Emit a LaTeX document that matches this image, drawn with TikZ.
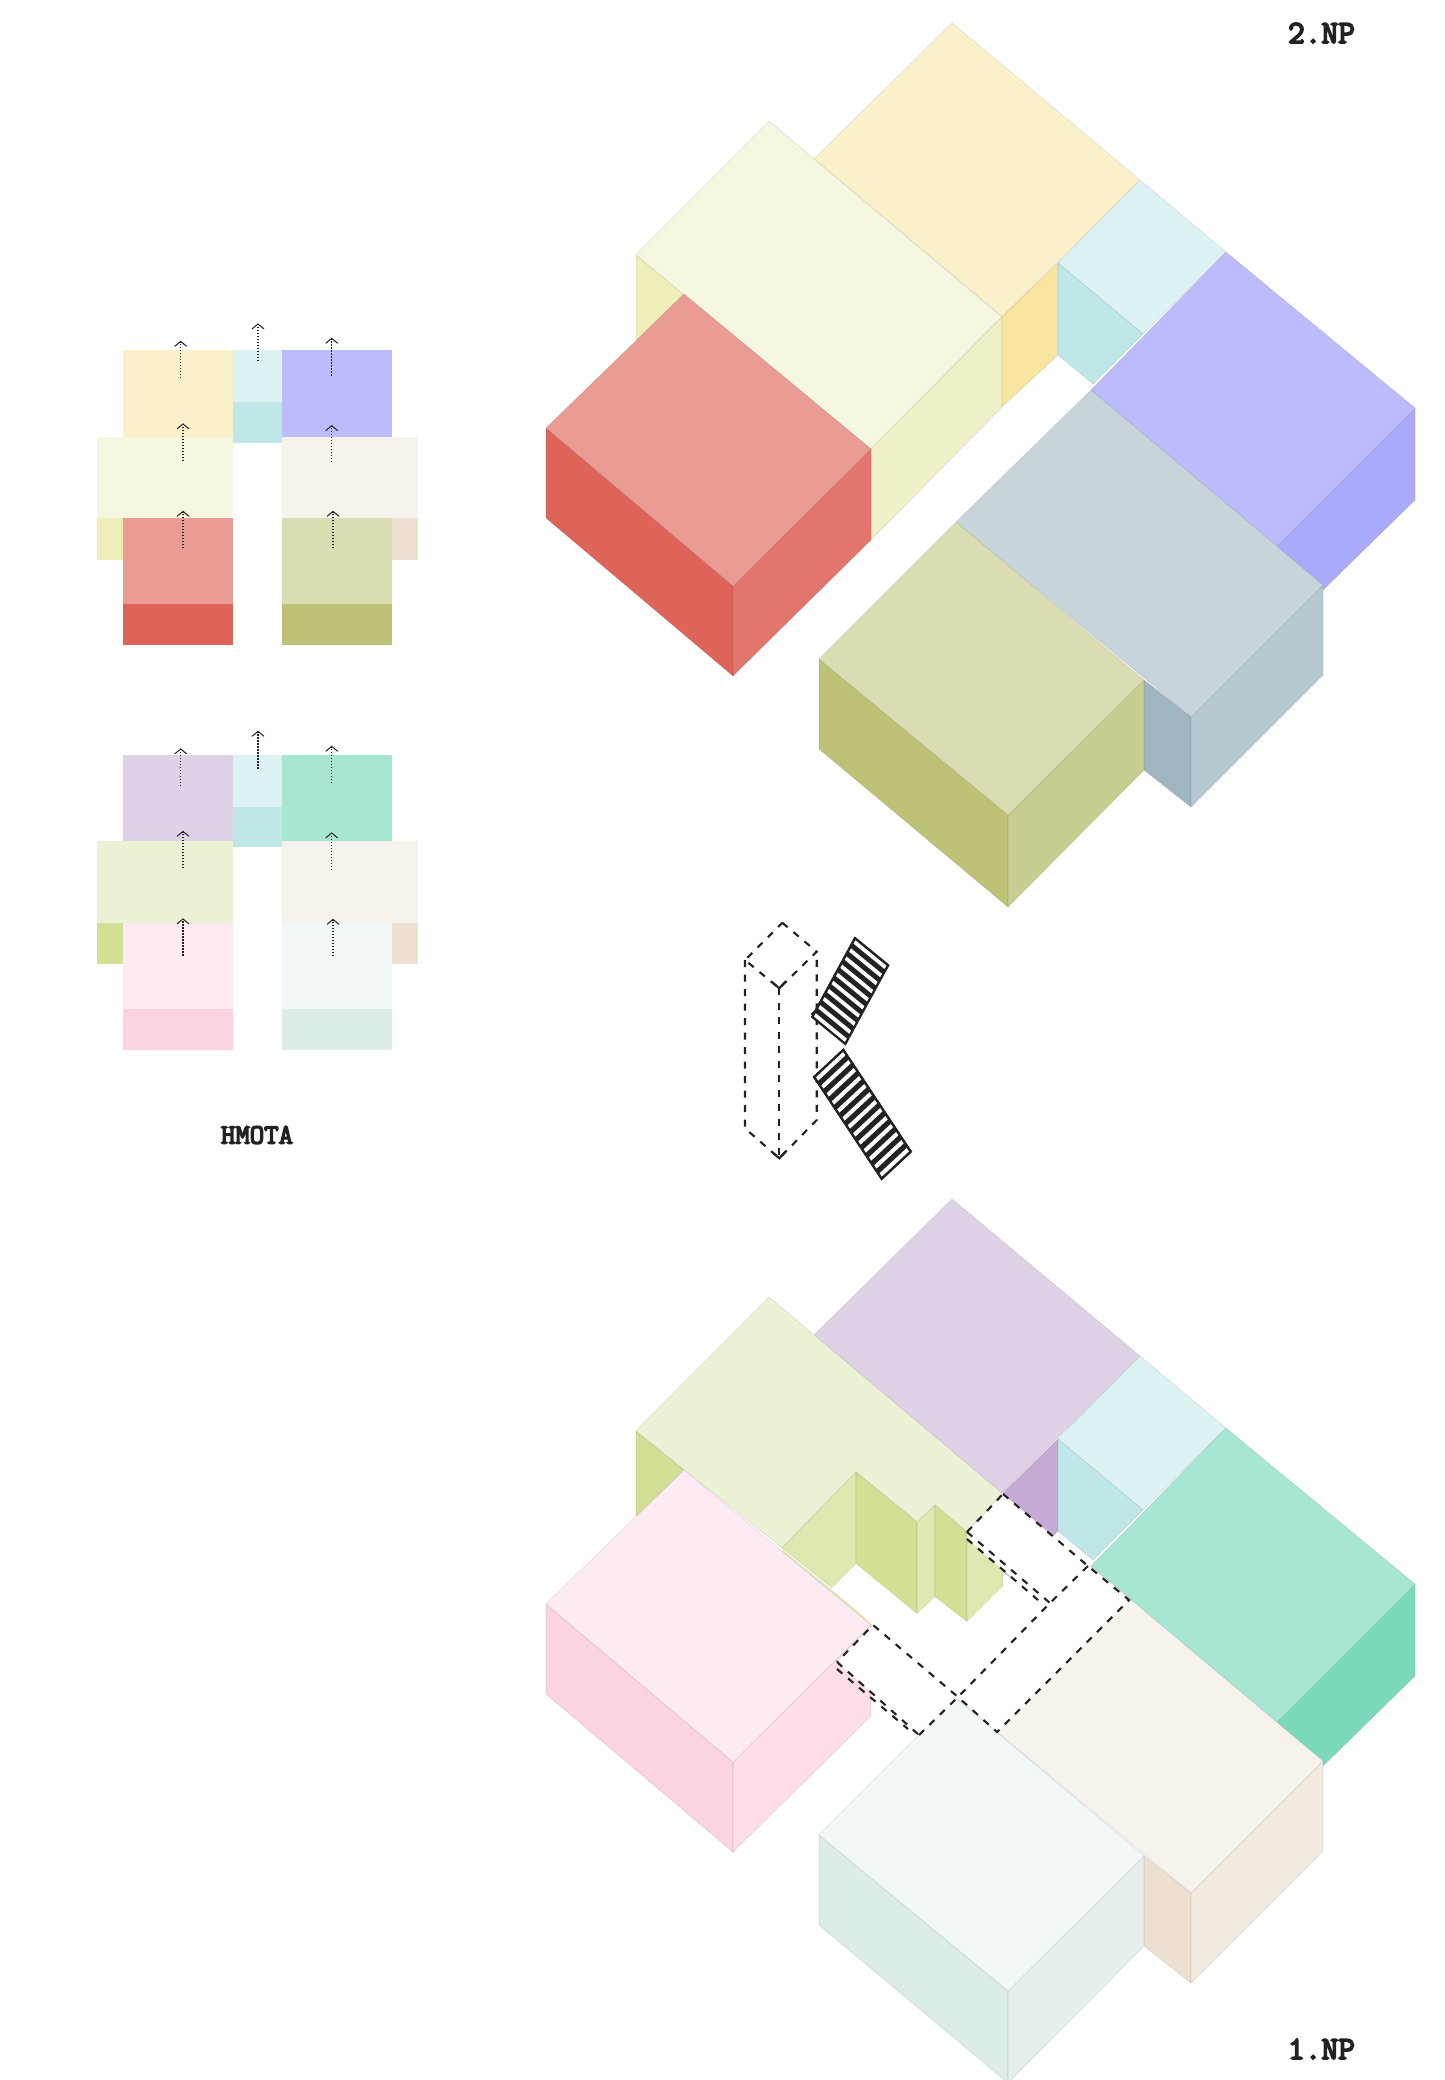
\documentclass[tikz,border=0pt]{standalone}
\usepackage{fontspec}
\newfontfamily\labelfont{Latin Modern Mono}[FakeBold=5]
\usetikzlibrary{arrows.meta}
\definecolor{yelT}{HTML}{FAF1CB}\definecolor{yelS}{HTML}{F8E6A0}
\definecolor{limT}{HTML}{F5F7E0}\definecolor{limR}{HTML}{F0F1C8}\definecolor{limL}{HTML}{EEEEB8}
\definecolor{cyaT}{HTML}{DCF2F3}\definecolor{cyaS}{HTML}{BFE7E7}
\definecolor{bluT}{HTML}{BCBBFC}\definecolor{bluS}{HTML}{AAAAFA}
\definecolor{gryT}{HTML}{C7D4DA}\definecolor{gryR}{HTML}{B5C7CF}\definecolor{gryL}{HTML}{9FB5C0}
\definecolor{oliT}{HTML}{DADDB1}\definecolor{oliL}{HTML}{BEC276}\definecolor{oliR}{HTML}{C8CD90}
\definecolor{redT}{HTML}{E99B94}\definecolor{redL}{HTML}{DE6459}\definecolor{redR}{HTML}{E2766C}
\definecolor{purT}{HTML}{DFD2E7}\definecolor{purS}{HTML}{C6ABD5}
\definecolor{minT}{HTML}{A8E6D4}\definecolor{minS}{HTML}{7DD9BC}
\definecolor{grnT}{HTML}{EBF2D6}\definecolor{grnM}{HTML}{D1E094}\definecolor{grnL}{HTML}{DDE9B0}
\definecolor{crmT}{HTML}{F6F2EC}\definecolor{crmR}{HTML}{F3EAE0}\definecolor{crmL}{HTML}{EEE0D0}
\definecolor{iceT}{HTML}{F2F8F7}\definecolor{iceL}{HTML}{DCECE7}\definecolor{iceR}{HTML}{E5F0ED}
\definecolor{pnkT}{HTML}{FDEAF2}\definecolor{pnkL}{HTML}{FBD3E2}\definecolor{pnkR}{HTML}{FCDDE8}
\definecolor{ink}{HTML}{222222}
\tikzset{
  face/.style={fill=#1,draw=black,draw opacity=.09,line width=.7pt,line join=round},
  flat/.style={fill=#1},
  planup/.style={draw=ink,line width=1.3pt,dash pattern=on 1.5pt off 1.5pt,
     -{Straight Barb[length=5pt,width=12pt,line width=1pt]}},
  dashline/.style={draw=ink,line width=2.1pt,dash pattern=on 7pt off 7.5pt,line cap=butt},
  gap/.style={fill=white,draw=none},
  tread/.style={fill=white,draw=ink,line width=2.3pt,line join=miter},
  flight/.style={fill=ink,draw=ink,line width=2.3pt,line join=miter},
  lbl/.style={text=ink,inner sep=0pt},
  lblbig/.style={lbl,font=\labelfont\fontsize{32.5}{32.5}\selectfont},
  lblsmall/.style={lbl,font=\labelfont\fontsize{28}{28}\selectfont}
}
\newcommand{\planbox}[5]{\path[flat=#1] (#2,#3) rectangle (#4,#5);}
\begin{document}
\begin{tikzpicture}[x=1pt,y=-1pt]
\useasboundingbox (0,0) rectangle (1444,2080);
\clip (0,0) rectangle (1444,2080);
\fill[white] (0,0) rectangle (1444,2080);

% ---------- plan, upper floor
\planbox{yelT}{123.3}{350}{233.3}{436.7}
\planbox{cyaT}{233.3}{350}{281.7}{402.3}
\planbox{cyaS}{232.7}{402.3}{282.3}{442.7}
\planbox{bluT}{281.7}{350}{391.7}{436.7}
\planbox{limT}{97.3}{436.5}{233.3}{518.3}
\planbox{limL}{97.3}{518.3}{125.7}{560}
\planbox{crmT}{281.7}{436.5}{417.7}{518.3}
\planbox{crmL}{391}{518.3}{417.7}{560}
\planbox{redT}{123.3}{518.3}{233.3}{604}
\planbox{redL}{123.3}{604}{233.3}{644.7}
\planbox{oliT}{281.7}{518.3}{391.7}{604}
\planbox{oliL}{281.7}{604}{391.7}{644.7}
% ---------- plan, ground floor
\planbox{purT}{123.3}{755}{233.3}{841}
\planbox{cyaT}{233.3}{755}{281.7}{806.7}
\planbox{cyaS}{232.7}{806.7}{282.3}{846.7}
\planbox{minT}{281.7}{755}{391.7}{841}
\planbox{grnT}{97.3}{841}{233.3}{923.3}
\planbox{grnM}{97.3}{923.3}{125.7}{964}
\planbox{crmT}{281.7}{841}{417.7}{923.3}
\planbox{crmL}{391}{923.3}{417.7}{964}
\planbox{pnkT}{123.3}{923.3}{233.3}{1009.3}
\planbox{pnkL}{123.3}{1009.3}{233.3}{1050}
\planbox{iceT}{281.7}{923.3}{391.7}{1009.3}
\planbox{iceL}{281.7}{1009.3}{391.7}{1050}
% ---------- plan arrows
\foreach \xa/\ya/\yb in {180.7/378.3/340.7,258/361/323.3,331.7/375.7/337.7,183/461/423.3,331.7/462.3/425,183/548.3/510.7,333/548.3/510.7,
  180.7/786/748.3,258/768.7/730.7,331.7/783.3/745.7,183/868.3/830.7,331.7/870/832.3,183/955.7/918.3,333/956.3/918.7}{
  \draw[planup] (\xa,\ya) -- (\xa,\yb);
}
\node[lblsmall] (hmota) at (257,1135) {HMOTA};

% ---------- axonometric, 2.NP
\path[face=yelT] (952,23) -- (1140,180) -- (1002,317) -- (814,159) -- cycle;
\path[face=limL] (636,255) -- (684,294) -- (636,341) -- cycle;
\path[face=limT] (769,121) -- (1002,317) -- (871,449) -- (636,255) -- cycle;
\path[face=limR] (1002,317) -- (1002,407) -- (871,540) -- (871,449) -- cycle;
\path[face=yelS] (1002,317) -- (1058,263) -- (1058,355) -- (1002,407) -- cycle;
\path[face=cyaT] (1140,180) -- (1226,252) -- (1143,334) -- (1058,263) -- cycle;
\path[face=cyaS] (1058,263) -- (1143,334) -- (1093,384) -- (1058,355) -- cycle;
\path[face=bluS] (1415,408) -- (1415,500) -- (1323,590) -- (1277,546) -- cycle;
\path[face=bluT] (1226,252) -- (1415,408) -- (1277,546) -- (1091,390) -- cycle;
\path[face=gryL] (1144,680) -- (1191,717) -- (1191,807) -- (1144,770) -- cycle;
\path[face=gryR] (1323,585) -- (1323,675) -- (1191,807) -- (1191,717) -- cycle;
\path[face=gryT] (1091,390) -- (1323,585) -- (1191,717) -- (956,522) -- cycle;
\path[face=oliL] (819,659) -- (1008,815) -- (1008,907) -- (819,749) -- cycle;
\path[face=oliR] (1008,815) -- (1144,680) -- (1144,770) -- (1008,907) -- cycle;
\path[face=oliT] (956,522) -- (1144,680) -- (1008,815) -- (819,659) -- cycle;
\path[face=redL] (546,428) -- (733,586) -- (733,676) -- (546,518) -- cycle;
\path[face=redR] (733,586) -- (871,449) -- (871,540) -- (733,676) -- cycle;
\path[face=redT] (684,294) -- (871,449) -- (733,586) -- (546,428) -- cycle;
\node[lblbig] (np2) at (1321.5,33) {2.NP};

% ---------- stairs and core
\draw[dashline] (782.3,922.7) -- (816.7,951.7) -- (779.3,988.3) -- (745,960) -- cycle;
\draw[dashline] (745,960) -- (745,1128.3) -- (779.3,1158.3) -- (816.7,1120) -- (816.7,951.7);
\draw[dashline] (779.3,988.3) -- (779.3,1158.3);
\draw[draw=ink,line width=2.1pt] (772,982) -- (779.3,988.3) -- (786,981);
\draw[draw=ink,line width=2.1pt] (772,1152) -- (779.3,1158.3) -- (786,1151);
\path[flight] (855,938.3) -- ++(33,27) -- (848.4,1035.2) -- ++(-3.1,5.7) -- ++(-33,-27) -- (815.4,1011.2) -- cycle;
\foreach \i in {0,...,9}{
  \pgfmathsetmacro{\ax}{855-\i*4.4}\pgfmathsetmacro{\ay}{938.3+\i*8.1}
  \path[tread] (\ax,\ay) -- ++(33,27) -- ++(-3.1,5.7) -- ++(-33,-27) -- cycle;
}
\path[flight] (843.3,1050) -- ++(-29,27) -- (878,1173) -- ++(3.7,5.6) -- ++(29,-27) -- (907,1146) -- cycle;
\foreach \i in {0,...,12}{
  \pgfmathsetmacro{\ax}{843.3+\i*5.3}\pgfmathsetmacro{\ay}{1050+\i*8}
  \path[tread] (\ax,\ay) -- ++(-29,27) -- ++(3.7,5.6) -- ++(29,-27) -- cycle;
}

% ---------- axonometric, 1.NP
\path[face=purT] (952,1199) -- (1140,1356) -- (1002,1493) -- (814,1335) -- cycle;
\path[face=grnM] (636,1431) -- (684,1470) -- (636,1517) -- cycle;
\path[face=grnT] (769,1297) -- (1002,1493) -- (967,1532) -- (935,1505) -- (917,1522) -- (856,1472) -- (782,1548) -- (636,1431) -- cycle;
\path[face=grnL] (782,1548) -- (856,1472) -- (856,1564) -- (832,1588) -- cycle;
\path[face=grnM] (856,1472) -- (917,1522) -- (917,1614) -- (856,1564) -- cycle;
\path[face=grnL] (917,1522) -- (935,1505) -- (935,1597) -- (917,1614) -- cycle;
\path[face=grnM] (935,1505) -- (967,1532) -- (967,1622) -- (935,1597) -- cycle;
\path[face=grnL] (967,1532) -- (1003,1494) -- (1003,1586) -- (967,1622) -- cycle;
\path[fill=grnL] (782,1549.5) -- (873,1623.5) -- (873,1632) -- (782,1556) -- cycle;
\path[face=purS] (1003,1493) -- (1058,1439) -- (1058,1531) -- (1003,1586) -- cycle;
\path[face=cyaT] (1140,1356) -- (1226,1428) -- (1143,1510) -- (1058,1439) -- cycle;
\path[face=cyaS] (1058,1439) -- (1143,1510) -- (1093,1560) -- (1058,1531) -- cycle;
\path[face=minS] (1415,1584) -- (1415,1676) -- (1323,1766) -- (1277,1722) -- cycle;
\path[face=minT] (1226,1428) -- (1415,1584) -- (1277,1722) -- (1091,1566) -- cycle;
\path[face=crmL] (1144,1856) -- (1191,1893) -- (1191,1983) -- (1144,1946) -- cycle;
\path[face=crmR] (1323,1761) -- (1323,1851) -- (1191,1983) -- (1191,1893) -- cycle;
\path[face=crmT] (1091,1566) -- (1323,1761) -- (1191,1893) -- (956,1698) -- cycle;
\path[face=iceL] (819,1835) -- (1008,1991) -- (1008,2083) -- (819,1925) -- cycle;
\path[face=iceR] (1008,1991) -- (1144,1856) -- (1144,1946) -- (1008,2083) -- cycle;
\path[face=iceT] (956,1698) -- (1144,1856) -- (1008,1991) -- (819,1835) -- cycle;
\path[face=pnkL] (546,1604) -- (733,1762) -- (733,1852) -- (546,1694) -- cycle;
\path[face=pnkR] (733,1762) -- (871,1625) -- (871,1716) -- (733,1852) -- cycle;
\path[face=pnkT] (684,1470) -- (871,1625) -- (733,1762) -- (546,1604) -- cycle;
% courtyard voids
\path[gap] (1003,1494) -- (1088,1566) -- (1050,1603) -- (1038,1600) -- (967,1539) -- (967,1532) -- cycle;
\path[gap] (832,1588) -- (856,1564) -- (917,1614) -- (935,1597) -- (967,1622) -- (1003,1586) -- (1003,1572) -- (1045,1606) -- (958,1697) -- (873,1625) -- cycle;
\path[gap] (1088,1566) -- (1129,1600) -- (997,1732) -- (958,1697) -- cycle;
\path[gap] (873,1625) -- (958,1697) -- (919,1735) -- (837,1662) -- cycle;
\coordinate (Aa) at (1003,1494); \coordinate (Ab) at (1088,1566);
\coordinate (Ac) at (1050,1603); \coordinate (Ad) at (967,1532);
\coordinate (Ba) at (1129,1600); \coordinate (Bb) at (997,1732);
\coordinate (Bc) at (958,1697);  \coordinate (Ca) at (873,1625);
\coordinate (Cb) at (837,1662);  \coordinate (Cc) at (919,1735);
\draw[dashline] (Aa) -- (Ab) -- (Ba) -- (Bb) -- (Bc) -- (Ca) -- (Cb);
\draw[dashline] (Ad) -- (Aa);
\draw[dashline] (Ad) -- (Ac);
\draw[dashline] (967,1539) -- (1038,1600);
\draw[dashline] (Ab) -- (Ac) -- (Bc) -- (Cc);
\draw[dashline] (Cb) -- (Cc);
\draw[dashline] (837,1669) -- (908,1729);
\node[lblbig] (np1) at (1321.5,2049) {1.NP};
\end{tikzpicture}
\end{document}
